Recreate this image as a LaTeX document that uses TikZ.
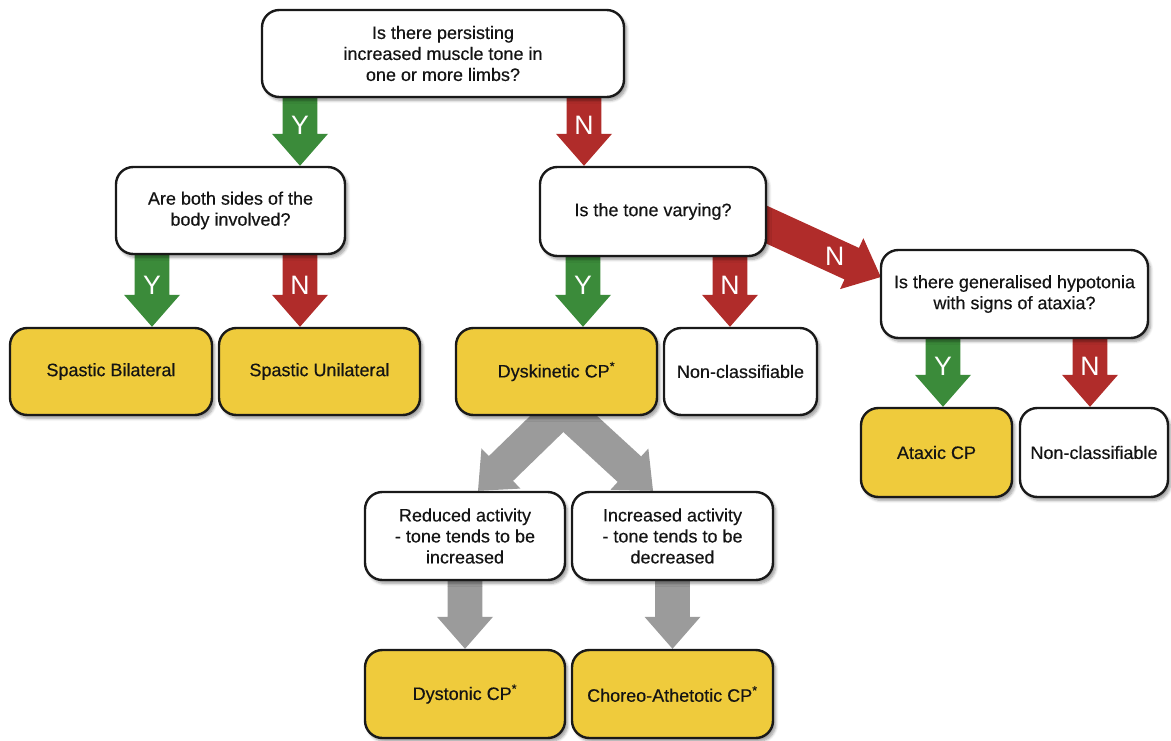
\documentclass[tikz,border=0pt]{standalone}
\usepackage{fontspec}
\setmainfont{Liberation Sans}
\usetikzlibrary{calc,shadows.blur}
\definecolor{cpgreen}{HTML}{3B8B3A}
\definecolor{cpred}{HTML}{B02C2A}
\definecolor{cpyellow}{HTML}{EFCB3C}
\definecolor{cpgray}{HTML}{9B9B9B}
\pgfdeclarelayer{background}
\pgfsetlayers{background,main}
\newcommand\blockarrow[5]{%
  \coordinate (ba-h) at ($(#2)!24pt!(#1)$);
  \fill[#3] ($(#1)!13pt!90:(#2)$) -- ($(ba-h)!13pt!90:(#2)$) -- ($(ba-h)!21pt!90:(#2)$) -- (#2)
    -- ($(ba-h)!21pt!-90:(#2)$) -- ($(ba-h)!13pt!-90:(#2)$) -- ($(#1)!13pt!-90:(#2)$) -- cycle;
  \path (#1) -- (#2) node[lbl,pos=#5]{#4};
}
\begin{document}
\begin{tikzpicture}[x=0.75pt,y=-0.75pt,
  box/.style={draw=black!90, line width=1.8pt, rounded corners=13pt, align=center,
    font=\fontsize{13.5}{15.75}\selectfont\addfontfeature{FakeBold=0.4}, text=black!92, inner sep=2pt,
    blur shadow={shadow xshift=2pt,shadow yshift=-2.5pt,shadow opacity=40,shadow blur steps=6}},
  qbox/.style={box, fill=white},
  ybox/.style={box, fill=cpyellow},
  lbl/.style={text=white, font=\fontsize{20}{20}\selectfont}
]
\useasboundingbox (0,0) rectangle (1171,740);
% question boxes
\node[qbox, minimum width=362*0.75pt, minimum height=87*0.75pt] (top) at (443,53.5)
  {Is there persisting\\increased muscle tone in\\one or more limbs?};
\node[qbox, minimum width=229*0.75pt, minimum height=87*0.75pt] (both) at (230.5,210.5)
  {Are both sides of the\\body involved?};
\node[qbox, minimum width=226*0.75pt, minimum height=89*0.75pt] (tone) at (653,211.5)
  {Is the tone varying?};
\node[qbox, minimum width=267*0.75pt, minimum height=88*0.75pt] (hypo) at (1014.5,294)
  {Is there generalised hypotonia\\with signs of ataxia?};
% outcome boxes row 1
\node[ybox, minimum width=202*0.75pt, minimum height=87*0.75pt] (sbil) at (111,371.5) {Spastic Bilateral};
\node[ybox, minimum width=201*0.75pt, minimum height=87*0.75pt] (suni) at (319.5,371.5) {Spastic Unilateral};
\node[ybox, minimum width=201*0.75pt, minimum height=87*0.75pt] (dysk) at (556.5,371.5) {Dyskinetic CP\textsuperscript{*}};
\node[qbox, minimum width=153*0.75pt, minimum height=87*0.75pt] (nc1) at (740.5,371.5) {Non-classifiable};
\node[ybox, minimum width=151*0.75pt, minimum height=89*0.75pt] (atax) at (936.5,452.5) {Ataxic CP};
\node[qbox, minimum width=148*0.75pt, minimum height=89*0.75pt] (nc2) at (1094,452.5) {Non-classifiable};
% dyskinetic sub boxes
\node[qbox, minimum width=200*0.75pt, minimum height=88*0.75pt] (red) at (465,536)
  {Reduced activity\\- tone tends to be\\increased};
\node[qbox, minimum width=201*0.75pt, minimum height=88*0.75pt] (inc) at (672.5,536)
  {Increased activity\\- tone tends to be\\decreased};
\node[ybox, minimum width=200*0.75pt, minimum height=88*0.75pt] (dyst) at (465,694) {Dystonic CP\textsuperscript{*}};
\node[ybox, minimum width=201*0.75pt, minimum height=88*0.75pt] (chor) at (672.5,694) {Choreo-Athetotic CP\textsuperscript{*}};
% arrow end points
\coordinate (a1s) at ($(top.south)+(-143,-6)$);   \coordinate (a1e) at (both.north -| a1s);
\coordinate (a2s) at ($(top.south)+(141,-6)$);    \coordinate (a2e) at (tone.north -| a2s);
\coordinate (a3s) at ($(both.south)+(-78.5,-6)$); \coordinate (a3e) at (sbil.north -| a3s);
\coordinate (a4s) at ($(both.south)+(69.5,-6)$);  \coordinate (a4e) at (suni.north -| a4s);
\coordinate (a5s) at ($(tone.south)+(-70,-6)$);   \coordinate (a5e) at (dysk.north -| a5s);
\coordinate (a6s) at ($(tone.south)+(77,-6)$);    \coordinate (a6e) at (nc1.north -| a6s);
\coordinate (a7s) at ($(tone.east)+(-26,1.5)$);   \coordinate (a7e) at ($(hypo.west)+(1,-17)$);
\coordinate (a8s) at ($(hypo.south)+(-71.5,-6)$); \coordinate (a8e) at (atax.north -| a8s);
\coordinate (a9s) at ($(hypo.south)+(75.5,-6)$);  \coordinate (a9e) at (nc2.north -| a9s);
\coordinate (g1s) at ($(dysk.south)+(6.5,-8)$);   \coordinate (g1e) at ($(red.north)+(13,0)$);
\coordinate (g2e) at ($(inc.north)+(-19.5,0)$);
\coordinate (g3s) at ($(red.south)+(0,-6)$);      \coordinate (g3e) at (dyst.north -| g3s);
\coordinate (g4s) at ($(inc.south)+(0,-6)$);      \coordinate (g4e) at (chor.north -| g4s);
\begin{pgfonlayer}{background}
\blockarrow{a1s}{a1e}{cpgreen}{Y}{0.45}
\blockarrow{a2s}{a2e}{cpred}{N}{0.45}
\blockarrow{a3s}{a3e}{cpgreen}{Y}{0.46}
\blockarrow{a4s}{a4e}{cpred}{N}{0.46}
\blockarrow{a5s}{a5e}{cpgreen}{Y}{0.45}
\blockarrow{a6s}{a6e}{cpred}{N}{0.45}
\blockarrow{a7s}{a7e}{cpred}{N}{0.67}
\blockarrow{a8s}{a8e}{cpgreen}{Y}{0.45}
\blockarrow{a9s}{a9e}{cpred}{N}{0.45}
\blockarrow{g1s}{g1e}{cpgray}{}{0.5}
\blockarrow{g1s}{g2e}{cpgray}{}{0.5}
\blockarrow{g3s}{g3e}{cpgray}{}{0.5}
\blockarrow{g4s}{g4e}{cpgray}{}{0.5}
\end{pgfonlayer}
\end{tikzpicture}
\end{document}
